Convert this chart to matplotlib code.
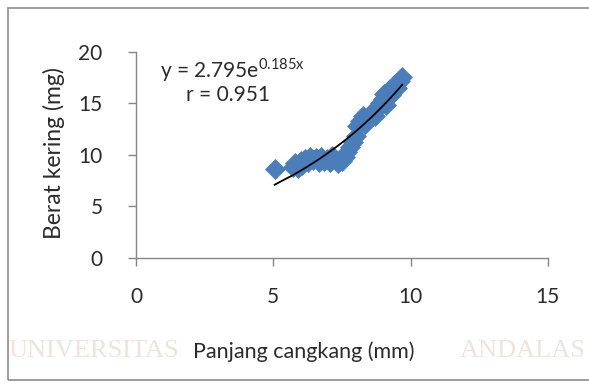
import matplotlib.pyplot as plt
import numpy as np
from matplotlib.patches import Rectangle

# shell length (mm) vs dry weight (mg)
panjang = [5.05, 5.7, 5.8, 5.9, 6.0, 6.05, 6.15, 6.25, 6.35, 6.45, 6.55, 6.65,
           6.75, 6.85, 6.95, 7.05, 7.15, 7.25, 7.35, 7.5, 7.6, 7.7, 7.8, 7.9,
           8.0, 8.05, 8.15, 8.25, 8.35, 8.5, 8.6, 8.7, 8.8, 8.9, 9.0, 9.05,
           9.1, 9.2, 9.3, 9.4, 9.5, 9.6, 9.7]
berat = [8.6, 8.8, 9.2, 8.7, 9.4, 9.0, 9.6, 9.3, 9.8, 9.5, 9.7, 9.3,
         9.8, 9.4, 9.6, 9.3, 9.9, 9.6, 9.2, 9.4, 9.8, 10.3, 10.8, 11.3,
         11.8, 12.8, 13.3, 13.8, 13.0, 13.5, 14.2, 13.8, 14.6, 15.0, 15.4, 15.9,
         14.8, 16.3, 15.8, 16.8, 16.5, 17.2, 17.6]

koef_a = 2.795
koef_b = 0.185
teks_persamaan = "y = 2.795e$^{\\mathregular{0.185x}}$"
teks_r = "r = 0.951"

plt.rcParams["font.family"] = ["Lato", "DejaVu Sans"]
plt.rcParams["mathtext.fontset"] = "custom"
plt.rcParams["mathtext.rm"] = "Lato"

fig = plt.figure(figsize=(5.89, 3.84), dpi=100)
fig.patch.set_facecolor("white")

# faint scan watermark, split so it sits either side of the axis title
fig.text(0.015, 0.085, "UNIVERSITAS", fontsize=19, family="Liberation Serif",
         color="#ede4df", ha="left", va="center", zorder=0)
fig.text(0.995, 0.085, "ANDALAS", fontsize=19, family="Liberation Serif",
         color="#ede4df", ha="right", va="center", zorder=0)

ax = fig.add_axes([0.231, 0.328, 0.699, 0.537])
ax.set_facecolor("none")

ax.scatter(panjang, berat, marker="D", s=115, color="#4a7ebb", linewidths=0, zorder=2)

xs = np.array(sorted(panjang))
ax.plot(xs, koef_a * np.exp(koef_b * xs), color="black", lw=1.3, zorder=3)

ax.set_xlim(0, 15)
ax.set_ylim(0, 20)
ax.set_xticks([0, 5, 10, 15])
ax.set_yticks([0, 5, 10, 15, 20])

for s in ["top", "right"]:
    ax.spines[s].set_visible(False)
for s in ["left", "bottom"]:
    ax.spines[s].set_color("#868686")
    ax.spines[s].set_linewidth(1.0)

ax.tick_params(axis="both", colors="#868686", labelcolor="#2b2b2b", labelsize=15,
               length=6, width=1.0)
ax.tick_params(axis="y", pad=18)
ax.tick_params(axis="x", pad=15)

ax.set_ylabel("Berat kering (mg)", fontsize=16.5, color="#2b2b2b")
ax.yaxis.set_label_coords(-0.172, 0.51)
ax.set_xlabel("Panjang cangkang (mm)", fontsize=15.5, color="#2b2b2b")
ax.xaxis.set_label_coords(0.408, -0.405)

ax.text(0.058, 0.913, teks_persamaan, transform=ax.transAxes, fontsize=15,
        color="#2b2b2b", ha="left", va="center")
ax.text(0.121, 0.79, teks_r, transform=ax.transAxes, fontsize=15,
        color="#2b2b2b", ha="left", va="center")

# outer frame of the chart area (right edge runs off the scan)
fig.patches.append(Rectangle((8 / 589, 4 / 384), 600 / 589, 372 / 384,
                             transform=fig.transFigure, fill=False,
                             edgecolor="#8c8c8c", lw=1.2))

fig.savefig("out.png", dpi=100)
